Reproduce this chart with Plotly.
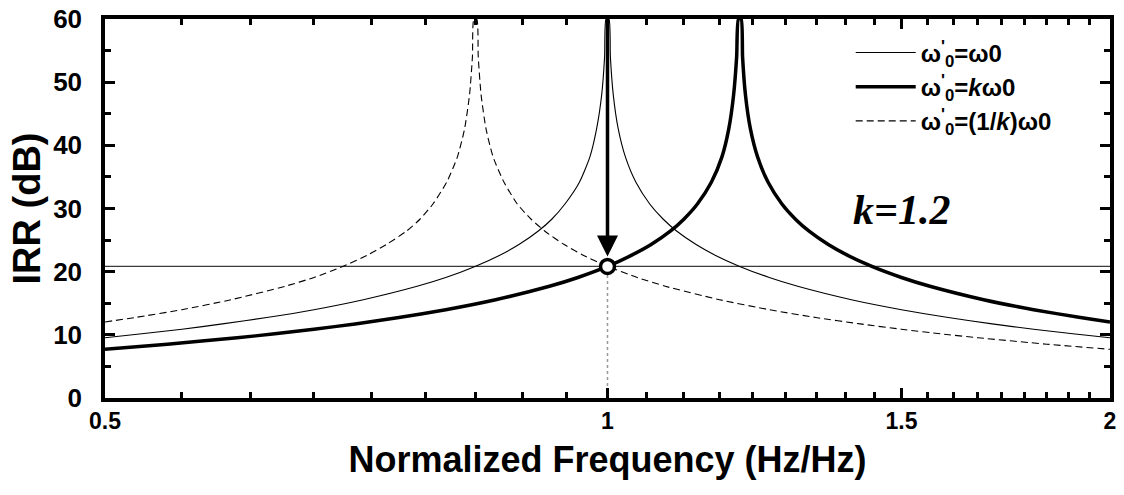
import plotly.graph_objects as go

# ---- data ----
freq_same = [0.5, 0.526, 0.556, 0.588, 0.625, 0.667, 0.714, 0.769, 0.8, 0.833, 0.862, 0.885,
             0.909, 0.926, 0.943, 0.962, 0.976, 0.985, 0.992, 0.996, 0.998,
             1.002, 1.004, 1.008, 1.015, 1.025, 1.04, 1.06, 1.08, 1.1, 1.13, 1.16, 1.2,
             1.25, 1.3, 1.4, 1.5, 1.6, 1.7, 1.8, 1.9, 2.0]
irr_same = [9.54, 10.16, 10.88, 11.73, 12.74, 13.98, 15.56, 17.69, 19.08, 20.83, 22.61, 24.29,
            26.44, 28.30, 30.71, 34.15, 38.17, 42.56, 47.99, 54.0, 60.0,
            60.0, 54.0, 47.99, 42.56, 38.17, 34.15, 30.71, 28.30, 26.44, 24.29, 22.61, 20.83,
            19.08, 17.69, 15.56, 13.98, 12.74, 11.73, 10.88, 10.16, 9.54]

freq_k = [0.5, 0.545, 0.6, 0.632, 0.667, 0.706, 0.75, 0.8, 0.857, 0.923, 0.96, 1.0, 1.034,
          1.062, 1.091, 1.111, 1.132, 1.154, 1.171, 1.182, 1.190, 1.195, 1.198,
          1.2024, 1.2048, 1.2096, 1.218, 1.23, 1.248, 1.272, 1.296, 1.32, 1.356, 1.392,
          1.44, 1.5, 1.56, 1.68, 1.8, 1.92, 2.0]
irr_k = [7.71, 8.52, 9.54, 10.16, 10.88, 11.73, 12.74, 13.98, 15.56, 17.69, 19.08, 20.83, 22.61,
         24.29, 26.44, 28.30, 30.71, 34.15, 38.17, 42.56, 47.99, 54.0, 60.0,
         60.0, 54.0, 47.99, 42.56, 38.17, 34.15, 30.71, 28.30, 26.44, 24.29, 22.61,
         20.83, 19.08, 17.69, 15.56, 13.98, 12.74, 12.04]

freq_inv = [0.5, 0.521, 0.556, 0.595, 0.641, 0.667, 0.694, 0.718, 0.737, 0.758, 0.772, 0.786,
            0.801, 0.813, 0.821, 0.8267, 0.830, 0.8317,
            0.835, 0.8367, 0.840, 0.8458, 0.854, 0.867, 0.883, 0.9, 0.917, 0.942, 0.967, 1.0,
            1.042, 1.083, 1.167, 1.25, 1.333, 1.417, 1.5, 1.583, 1.667, 1.833, 2.0]
irr_inv = [12.04, 12.74, 13.98, 15.56, 17.69, 19.08, 20.83, 22.61, 24.29, 26.44, 28.30, 30.71,
           34.15, 38.17, 42.56, 47.99, 54.0, 60.0,
           60.0, 54.0, 47.99, 42.56, 38.17, 34.15, 30.71, 28.30, 26.44, 24.29, 22.61, 20.83,
           19.08, 17.69, 15.56, 13.98, 12.74, 11.73, 10.88, 10.16, 9.54, 8.52, 7.71]

ref_level = 20.83
x_tick_vals = [0.5, 1, 1.5, 2]
x_tick_text = ["0.5", "1", "1.5", "2"]
y_tick_vals = [0, 10, 20, 30, 40, 50, 60]

names = ["<b>ω<sup>'</sup><sub>0</sub>=ω0</b>",
         "<b>ω<sup>'</sup><sub>0</sub>=<i>k</i>ω0</b>",
         "<b>ω<sup>'</sup><sub>0</sub>=(1/<i>k</i>)ω0</b>"]

FONT = "Liberation Sans"

fig = go.Figure()
fig.add_trace(go.Scatter(x=[0.5, 2], y=[ref_level, ref_level], mode="lines",
                         line=dict(color="#3a3a3a", width=1.2), showlegend=False, hoverinfo="skip"))
fig.add_trace(go.Scatter(x=[1, 1], y=[0, ref_level], mode="lines",
                         line=dict(color="#999999", width=1.5, dash="dot"), showlegend=False, hoverinfo="skip"))
fig.add_trace(go.Scatter(x=freq_same, y=irr_same, mode="lines", name=names[0],
                         line=dict(color="black", width=1.1, shape="spline", smoothing=0.6)))
fig.add_trace(go.Scatter(x=freq_k, y=irr_k, mode="lines", name=names[1],
                         line=dict(color="black", width=3.5, shape="spline", smoothing=0.6)))
fig.add_trace(go.Scatter(x=freq_inv, y=irr_inv, mode="lines", name=names[2],
                         line=dict(color="black", width=1.1, dash="7px,4px", shape="spline", smoothing=0.6)))
fig.add_trace(go.Scatter(x=[1], y=[ref_level], mode="markers", showlegend=False, hoverinfo="skip",
                         marker=dict(size=14, color="white", line=dict(color="black", width=3.5))))

# arrow (log axis -> annotation x in log10 units)
fig.add_annotation(x=0, y=22.4, ax=0, ay=60, xref="x", yref="y", axref="x", ayref="y",
                   showarrow=True, arrowhead=2, arrowsize=1.2, arrowwidth=3.5, arrowcolor="black", text="")
fig.add_annotation(x=0.793, y=0.497, xref="paper", yref="paper", xanchor="center", yanchor="middle",
                   text="<b><i>k=1.2</i></b>", showarrow=False,
                   font=dict(family="Liberation Serif", size=42, color="black"))

minor_x = [0.5 + k / 18 for k in range(1, 27) if k % 9 != 0]

axis_common = dict(showline=True, linewidth=3.5, linecolor="black", mirror="allticks",
                   ticks="inside", ticklen=10, tickwidth=3, tickcolor="black", showgrid=False,
                   zeroline=False)

fig.update_xaxes(type="log", range=[-0.30103, 0.30103], tickmode="array",
                 tickvals=x_tick_vals, ticktext=x_tick_text,
                 tickfont=dict(family=FONT, size=23, color="black", weight="bold"),
                 minor=dict(tickmode="array", tickvals=minor_x, ticks="inside", ticklen=6,
                            tickwidth=3, tickcolor="black", showgrid=False),
                 title=dict(text="<b>Normalized Frequency (Hz/Hz)</b>", standoff=14,
                            font=dict(family=FONT, size=36, color="black")),
                 **axis_common)
fig.update_yaxes(range=[0, 60], tickmode="array", tickvals=y_tick_vals,
                 tickfont=dict(family=FONT, size=26, color="black", weight="bold"),
                 ticklabelstandoff=14,
                 minor=dict(dtick=5, tick0=0, ticks="inside", ticklen=6, tickwidth=3,
                            tickcolor="black", showgrid=False),
                 title=dict(text="<b>IRR (dB)</b>", standoff=2,
                            font=dict(family=FONT, size=38, color="black")),
                 **axis_common)

fig.update_layout(
    width=1124, height=495,
    margin=dict(l=105, r=14, t=19, b=97, autoexpand=False),
    plot_bgcolor="white", paper_bgcolor="white",
    legend=dict(x=0.742, y=0.97, xanchor="left", yanchor="top", bgcolor="rgba(0,0,0,0)",
                font=dict(family=FONT, size=24, color="black"), tracegroupgap=0,
                itemwidth=60),
    showlegend=True,
)

fig.write_html("out.html")
